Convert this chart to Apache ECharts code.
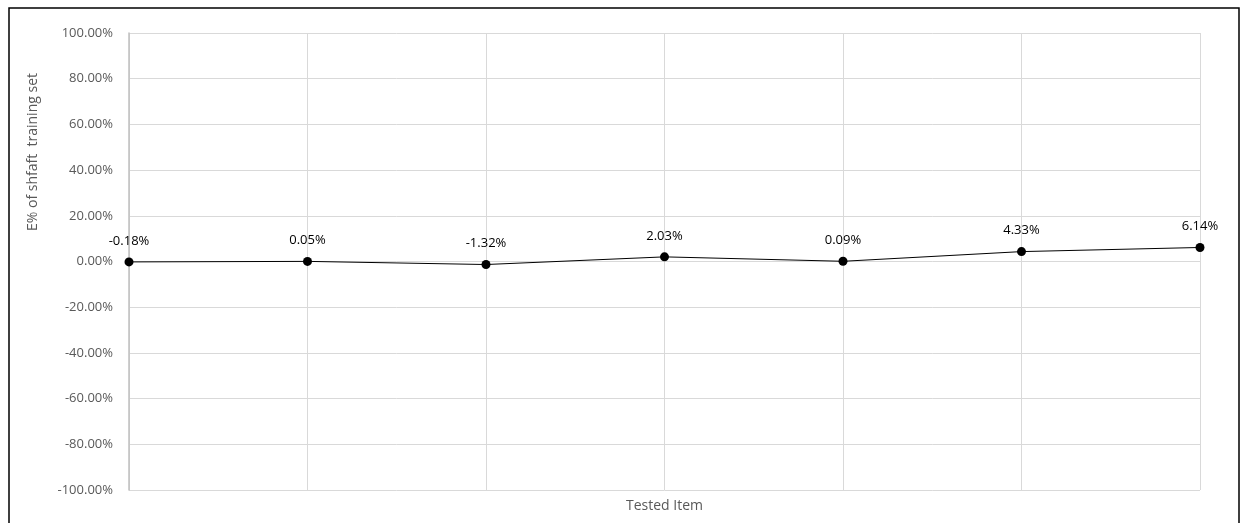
<!DOCTYPE html>
<html>
<head>
<meta charset="utf-8">
<script src="https://cdn.jsdelivr.net/npm/echarts@6/dist/echarts.min.js"></script>
<style>
  html, body { margin: 0; padding: 0; background: #fff; }
  #chart { width: 1240px; height: 523px; }
</style>
</head>
<body>
<div id="chart"></div>
<script>
// 数据
var categories = ['1', '2', '3', '4', '5', '6', '7'];
var errorValues = [-0.18, 0.05, -1.32, 2.03, 0.09, 4.33, 6.14];
var yTicks = { min: -100, max: 100, step: 20 };
var yTitle = 'E% of shfaft  training set';
var xTitle = 'Tested Item';

var myChart = echarts.init(document.getElementById('chart'));

var font = 'Open Sans';

var option = {
    animation: false,
    grid: { left: 129, right: 40, top: 33, bottom: 33, containLabel: false },
    graphic: [
        {
            type: 'rect',
            shape: { x: 9, y: 8, width: 1230, height: 530 },
            style: { fill: 'none', stroke: '#000', lineWidth: 1.5 },
            silent: true
        },
        {
            type: 'text',
            x: 33, y: 152,
            rotation: Math.PI / 2,
            style: {
                text: yTitle,
                fill: '#595959',
                font: '14px "' + font + '"',
                textAlign: 'center',
                textVerticalAlign: 'middle'
            }
        }
    ],
    xAxis: {
        type: 'category',
        data: categories,
        boundaryGap: false,
        name: xTitle,
        nameLocation: 'middle',
        nameGap: 9,
        nameTextStyle: { color: '#595959', fontSize: 14, fontFamily: font },
        axisLine: { show: false },
        axisTick: { show: false },
        axisLabel: { show: false },
        splitLine: { show: true, lineStyle: { color: '#d9d9d9', width: 1 } }
    },
    yAxis: {
        type: 'value',
        min: yTicks.min,
        max: yTicks.max,
        interval: yTicks.step,
        axisLine: { show: true, lineStyle: { color: '#bfbfbf', width: 1.5 } },
        axisTick: { show: false },
        axisLabel: {
            color: '#595959',
            fontSize: 13,
            fontFamily: font,
            margin: 16,
            formatter: function (v) { return v.toFixed(2) + '%'; }
        },
        splitLine: { show: true, lineStyle: { color: '#d9d9d9', width: 1 } }
    },
    series: [{
        type: 'line',
        data: errorValues,
        symbol: 'circle',
        symbolSize: 9,
        itemStyle: { color: '#000' },
        lineStyle: { color: '#000', width: 1 },
        label: {
            show: true,
            position: 'top',
            distance: 10,
            color: '#000',
            fontSize: 13,
            fontFamily: font,
            formatter: function (p) { return p.value.toFixed(2) + '%'; }
        }
    }]
};

myChart.setOption(option);
</script>
</body>
</html>
